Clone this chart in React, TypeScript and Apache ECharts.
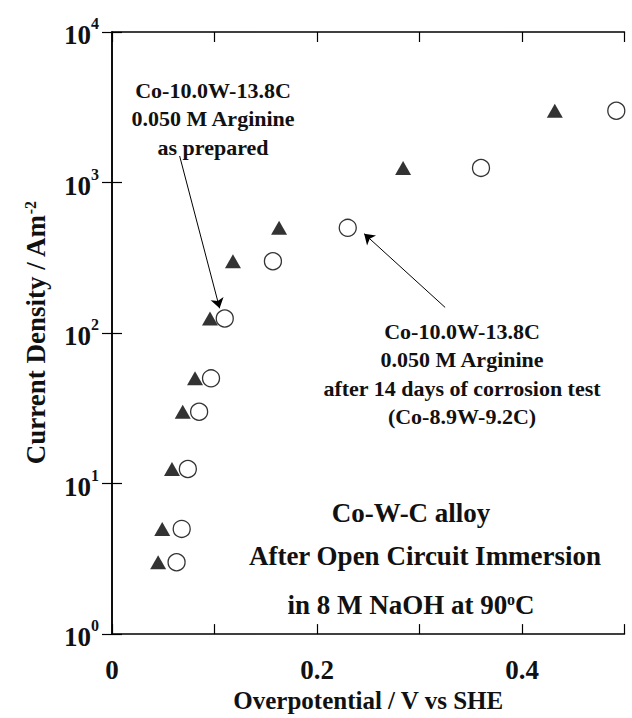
import React, { useEffect, useRef } from 'react';
import * as echarts from 'echarts';

const FONT = '"Liberation Serif", "Times New Roman", serif';
const INK = '#111';

// Co-10.0W-13.8C, 0.050 M Arginine, as prepared (filled triangles)
const preparedX = [0.045, 0.049, 0.0585, 0.069, 0.081, 0.0956, 0.118, 0.163, 0.284, 0.432];
const preparedY = [3, 5, 12.5, 30, 50, 125, 300, 500, 1250, 3000];
// after 14 days of corrosion test (open circles)
const corrodedX = [0.063, 0.068, 0.074, 0.085, 0.0966, 0.11, 0.157, 0.23, 0.36, 0.492];
const corrodedY = [3, 5, 12.5, 30, 50, 125, 300, 500, 1250, 3000];

const xLabelled = [0, 0.2, 0.4];
// arrows in data space: [from, to]
const arrowPrepared = [[0.066, 1500], [0.105, 146]];
const arrowCorroded = [[0.325, 148], [0.246, 457]];

const notePrepared = ['Co-10.0W-13.8C', '0.050 M Arginine', 'as prepared'];
const noteCorroded = ['Co-10.0W-13.8C', '0.050 M Arginine', 'after 14 days of corrosion test', '(Co-8.9W-9.2C)'];
const noteConditions = ['Co-W-C alloy', 'After Open Circuit Immersion', 'in 8 M NaOH at 90{s|o}C'];

export default function App() {
  const ref = useRef<HTMLDivElement>(null);
  useEffect(() => {
    document.body.style.margin = '0';
    const chart = echarts.init(ref.current!, null, { renderer: 'svg' });
    const baseText = { fontFamily: FONT, fontWeight: 'bold' as const, fill: INK };
    const textEl = (text: string, x: number, y: number, size: number) => ({
      type: 'text',
      x,
      y,
      style: {
        ...baseText,
        text,
        fontSize: size,
        align: 'center',
        verticalAlign: 'middle',
        rich: { s: { fontFamily: FONT, fontWeight: 'bold', fontSize: Math.round(size * 0.6), verticalAlign: 'top', fill: INK, padding: [0, 0, 8, 0] } },
      },
    });
    const graphics: any[] = [];
    notePrepared.forEach((t, i) => graphics.push(textEl(t, 213, 90 + i * 28.5, 22)));
    noteCorroded.forEach((t, i) => graphics.push(textEl(t, 462, 331 + i * 28.5, 22)));
    const condY = [513, 556, 605];
    const condX = [411, 425, 411];
    noteConditions.forEach((t, i) => graphics.push(textEl(t, condX[i], condY[i], 27)));

    const axisLine = { show: true, lineStyle: { color: '#000', width: 1.5 } };
    const axisTick = { show: true, inside: true, length: 10, lineStyle: { color: '#000', width: 1.2 } };
    const labelStyle = { fontFamily: FONT, fontWeight: 'bold' as const, color: INK };

    chart.setOption({
      animation: false,
      backgroundColor: '#fff',
      grid: { left: 112, top: 32, right: 7.5, bottom: 74, containLabel: false },
      xAxis: [
        {
          type: 'value',
          min: 0,
          max: 0.5,
          interval: 0.1,
          position: 'bottom',
          axisLine,
          axisTick,
          splitLine: { show: false },
          axisLabel: {
            ...labelStyle,
            fontSize: 27,
            margin: 22,
            formatter: (v: number) => {
              const r = Math.round(v * 10) / 10;
              return xLabelled.some((l) => Math.abs(l - r) < 1e-9) ? (r === 0 ? '0' : r.toFixed(1)) : '';
            },
          },
          name: 'Overpotential / V vs SHE',
          nameLocation: 'middle',
          nameGap: 50,
          nameTextStyle: { ...labelStyle, fontSize: 25 },
        },
        {
          type: 'value',
          min: 0,
          max: 0.5,
          interval: 0.1,
          position: 'top',
          axisLine,
          axisTick,
          splitLine: { show: false },
          axisLabel: { show: false },
        },
      ],
      yAxis: [
        {
          type: 'log',
          logBase: 10,
          min: 1,
          max: 10000,
          position: 'left',
          axisLine,
          axisTick,
          minorTick: { show: false },
          splitLine: { show: false },
          axisLabel: {
            margin: 13,
            formatter: (v: number) => `{b|10}{s|${Math.round(Math.log10(v))}}`,
            rich: {
              b: { ...labelStyle, fontSize: 27, lineHeight: 33, verticalAlign: 'bottom' },
              s: { ...labelStyle, fontSize: 16, lineHeight: 16, verticalAlign: 'top' },
            },
          },
          name: 'Current Density / Am{s|-2}',
          nameLocation: 'middle',
          nameGap: 62,
          nameTextStyle: {
            ...labelStyle,
            fontSize: 27,
            rich: {
              s: { ...labelStyle, fontSize: 16, verticalAlign: 'top', padding: [0, 0, 12, 0] },
            },
          },
        },
        {
          type: 'log',
          logBase: 10,
          min: 1,
          max: 10000,
          position: 'right',
          axisLine,
          axisTick,
          splitLine: { show: false },
          axisLabel: { show: false },
        },
      ],
      series: [
        {
          name: 'as prepared',
          type: 'scatter',
          symbol: 'triangle',
          symbolSize: [16, 14],
          itemStyle: { color: '#000' },
          data: preparedX.map((x, i) => [x, preparedY[i]]),
          z: 3,
        },
        {
          name: 'after corrosion test',
          type: 'scatter',
          symbol: 'circle',
          symbolSize: 17,
          itemStyle: { color: '#fff', borderColor: '#000', borderWidth: 1.3 },
          data: corrodedX.map((x, i) => [x, corrodedY[i]]),
          z: 4,
        },
        {
          type: 'lines',
          coordinateSystem: 'cartesian2d',
          symbol: ['none', 'arrow'],
          symbolSize: 10,
          silent: true,
          lineStyle: { color: '#000', width: 1, opacity: 1 },
          data: [{ coords: arrowPrepared }, { coords: arrowCorroded }],
          z: 5,
        },
      ],
      graphic: graphics,
    });
    return () => chart.dispose();
  }, []);
  return <div ref={ref} style={{ width: 632, height: 718 }} />;
}
